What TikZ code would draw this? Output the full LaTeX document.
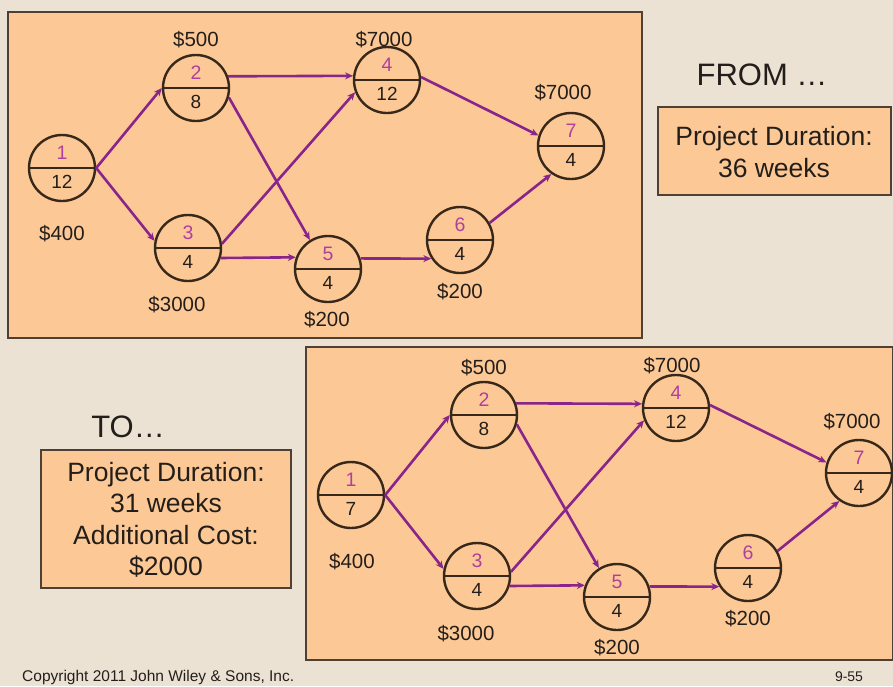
\documentclass[tikz,border=0pt]{standalone}
\usepackage{fontspec}
\setmainfont{Liberation Sans}
\usetikzlibrary{arrows.meta}

\definecolor{pagebg}{RGB}{236,226,212}
\definecolor{panelfill}{RGB}{252,201,150}
\definecolor{panelline}{RGB}{78,64,52}
\definecolor{edgecol}{RGB}{136,36,138}
\definecolor{idcol}{RGB}{176,64,158}
\definecolor{ringcol}{RGB}{56,40,26}
\definecolor{inkcol}{RGB}{36,30,26}

% one activity: circle split by a bar, activity id above, duration below
\newcommand\pertnode[5]{%
  \node[netcirc] (#1) at (#2,#3) {};
  \draw[divider] (#1.west) -- (#1.east);
  \node[idnum]  at ([yshift=15pt]#1.center) {#4};
  \node[durnum] at ([yshift=-14pt]#1.center) {#5};
}

\begin{document}
\begin{tikzpicture}[x=1pt,y=-1pt,
  panel/.style={fill=panelfill, draw=panelline, line width=2.8pt},
  infobox/.style={fill=panelfill, draw=panelline, line width=2.4pt},
  netcirc/.style={circle, draw=ringcol, line width=2.4pt, minimum size=66pt, inner sep=0pt},
  divider/.style={draw=ringcol, line width=2.4pt},
  idnum/.style={text=idcol, font=\fontsize{19.5}{22}\selectfont, inner sep=0pt},
  durnum/.style={text=inkcol, font=\fontsize{19}{22}\selectfont, inner sep=0pt},
  cost/.style={text=inkcol, font=\fontsize{20.5}{24}\selectfont, inner sep=0pt},
  edge/.style={draw=edgecol, line width=2.6pt, -{Stealth[length=8pt,width=7pt]}},
  heading/.style={text=inkcol, font=\fontsize{31}{36}\selectfont, inner sep=0pt},
  boxtext/.style={text=inkcol, font=\fontsize{26.5}{31.5}\selectfont, align=center, inner sep=0pt}
]
\useasboundingbox (0,0) rectangle (893,686);
\fill[pagebg] (0,0) rectangle (893,686);

% ---------- original network ----------
\draw[panel] (8,12) rectangle (642,338);

\pertnode{t1}{62}{168}{1}{12}
\pertnode{t2}{196}{88}{2}{8}
\pertnode{t3}{188}{248}{3}{4}
\pertnode{t4}{387}{80}{4}{12}
\pertnode{t5}{328}{269}{5}{4}
\pertnode{t6}{460}{240}{6}{4}
\pertnode{t7}{571}{146}{7}{4}

\draw[edge] (t1.0) -- (t2.180);
\draw[edge] (t1.0) -- (t3.168);
\draw[edge] (t2.20) -- (t4.173);
\draw[edge] (t2.-16) -- (t5.122);
\draw[edge] (t3.7) -- (t4.201);
\draw[edge] (t3.-17) -- (t5.160);
\draw[edge] (t5.18) -- (t6.213);
\draw[edge] (t4.5) -- (t7.162);
\draw[edge] (t6.30) -- (t7.235);

\node[cost] (tc2) at (196,40) {\$500};
\node[cost] (tc4) at (384,40) {\$7000};
\node[cost] (tc7) at (563,93) {\$7000};
\node[cost] (tc1) at (62,234) {\$400};
\node[cost] (tc3) at (177,305) {\$3000};
\node[cost] (tc5) at (327,320) {\$200};
\node[cost] (tc6) at (460,292) {\$200};

\node[heading] (fromlbl) at (762,75) {FROM …};
\draw[infobox] (658,107) rectangle (891,195);
\node[boxtext] (fromtxt) at (774,152) {Project Duration:\\36 weeks};

% ---------- crashed network ----------
\draw[panel] (306,347) rectangle (893,660);

\pertnode{b1}{351}{495}{1}{7}
\pertnode{b2}{484}{415}{2}{8}
\pertnode{b3}{477}{576}{3}{4}
\pertnode{b4}{676}{408}{4}{12}
\pertnode{b5}{617}{597}{5}{4}
\pertnode{b6}{748}{568}{6}{4}
\pertnode{b7}{859}{473}{7}{4}

\draw[edge] (b1.0) -- (b2.180);
\draw[edge] (b1.0) -- (b3.168);
\draw[edge] (b2.20) -- (b4.173);
\draw[edge] (b2.-16) -- (b5.122);
\draw[edge] (b3.7) -- (b4.201);
\draw[edge] (b3.-17) -- (b5.160);
\draw[edge] (b5.18) -- (b6.213);
\draw[edge] (b4.5) -- (b7.162);
\draw[edge] (b6.30) -- (b7.235);

\node[cost] (bc2) at (484,368) {\$500};
\node[cost] (bc4) at (672,366) {\$7000};
\node[cost] (bc7) at (852,422) {\$7000};
\node[cost] (bc1) at (352,562) {\$400};
\node[cost] (bc3) at (466,634) {\$3000};
\node[cost] (bc5) at (617,648) {\$200};
\node[cost] (bc6) at (748,619) {\$200};

\node[heading] (tolbl) at (128,427) {TO…};
\draw[infobox] (41,450) rectangle (291,588);
\node[boxtext] (totxt) at (166,520) {Project Duration:\\31 weeks\\Additional Cost:\\\$2000};

% ---------- footer ----------
\node[anchor=west, text=inkcol, font=\fontsize{15.5}{18}\selectfont, inner sep=0pt] (copy) at (22,677) {Copyright 2011 John Wiley \& Sons, Inc.};
\node[text=inkcol, font=\fontsize{14}{16}\selectfont, inner sep=0pt] (slide) at (849,677) {9-55};
\end{tikzpicture}
\end{document}
